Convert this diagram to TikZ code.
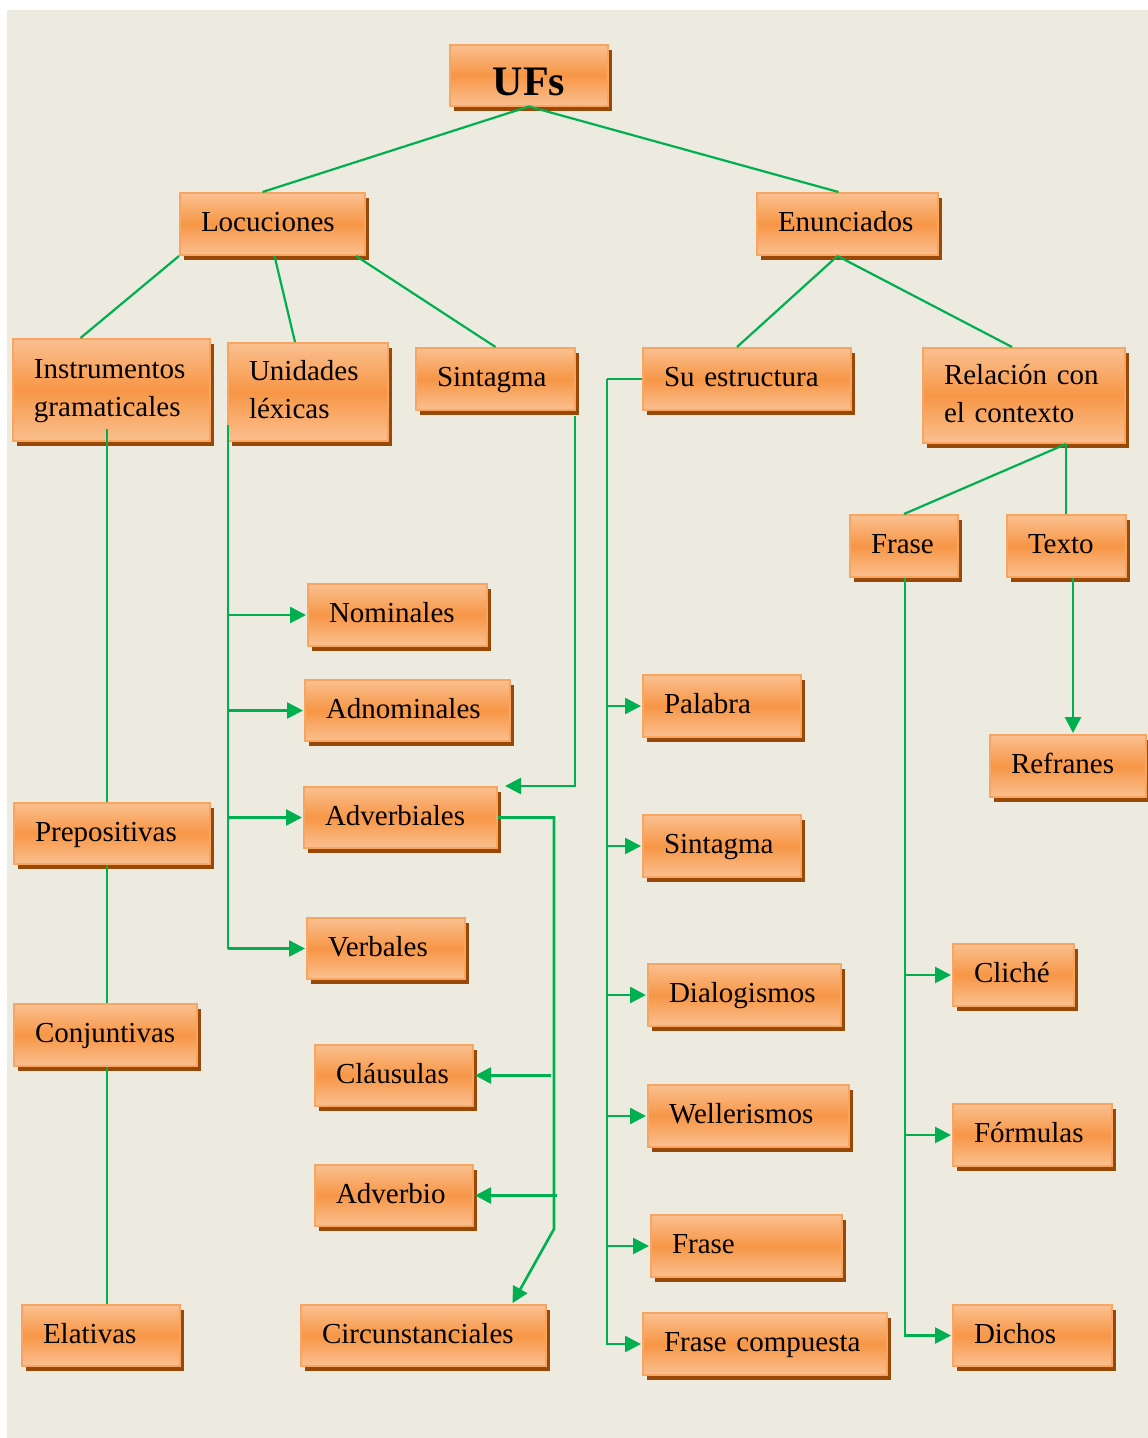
\documentclass[tikz,border=0pt]{standalone}
\usepackage{fontspec}
\setmainfont{Liberation Serif}
\usetikzlibrary{calc,shadows,arrows.meta}

\definecolor{bgc}{HTML}{EDEAE0}
\definecolor{boxmid}{HTML}{F79646}
\definecolor{boxlight}{HTML}{FAC090}
\definecolor{boxedge}{HTML}{F8A462}
\definecolor{boxshade}{HTML}{984807}
\definecolor{linkc}{HTML}{00B050}

\tikzset{
  ufbox/.style={draw=boxedge, line width=2pt,
    top color=boxlight, bottom color=boxlight, middle color=boxmid,
    drop shadow={shadow xshift=4pt, shadow yshift=-5pt, fill=boxshade, opacity=1},
    inner xsep=21pt, inner ysep=0pt, align=left,
    font=\fontsize{29}{38}\selectfont},
  link/.style={draw=linkc, line width=2.2pt},
  arr/.style={draw=linkc, line width=2.6pt, shorten >=1pt,
    -{Triangle[length=16pt,width=16pt]}},
}

% box given by its corners: name, x1, y1, x2, y2, text
\newcommand\ufnode[6]{%
  \pgfmathsetmacro\ufw{#4-#2}%
  \pgfmathsetmacro\ufh{#5-#3}%
  \pgfmathsetmacro\uft{#4-#2-42}%
  \node[ufbox, minimum width=\ufw pt, minimum height=\ufh pt, text width=\uft pt]
    (#1) at ({(#2+#4)/2},{(#3+#5)/2}) {\strut #6\strut};}

\begin{document}
\begin{tikzpicture}[x=1pt, y=-1pt]
\useasboundingbox (0,0) rectangle (1148,1438);
\fill[bgc] (7,10) rectangle (1148,1438);

% top level
\node[ufbox, font=\fontsize{42}{50}\selectfont\bfseries, align=center,
  text width=116pt, minimum width=158pt, minimum height=61pt,
  text height=40pt, text depth=0pt] (ufs) at (529,75) {UFs};

\ufnode{loc}{180}{193}{365}{255}{Locuciones}
\ufnode{enu}{757}{193}{938}{255}{Enunciados}

% locuciones
\ufnode{inst}{13}{339}{210}{441}{Instrumentos\\gramaticales}
\ufnode{unid}{228}{343}{388}{441}{Unidades\\léxicas}
\ufnode{sintL}{416}{348}{575}{410}{Sintagma}
\ufnode{prep}{14}{803}{210}{864}{Prepositivas}
\ufnode{conj}{14}{1004}{197}{1066}{Conjuntivas}
\ufnode{elat}{22}{1305}{180}{1366}{Elativas}
\ufnode{nom}{308}{584}{487}{646}{Nominales}
\ufnode{adnom}{305}{680}{510}{741}{Adnominales}
\ufnode{adverb}{304}{787}{497}{848}{Adverbiales}
\ufnode{verb}{307}{918}{465}{979}{Verbales}
\ufnode{claus}{315}{1045}{473}{1106}{Cláusulas}
\ufnode{adverbio}{315}{1165}{473}{1226}{Adverbio}
\ufnode{circ}{301}{1305}{546}{1366}{Circunstanciales}

% enunciados
\ufnode{suest}{643}{348}{851}{410}{Su~estructura}
\ufnode{rel}{923}{348}{1125}{443}{Relación~con\\el~contexto}
\ufnode{pal}{643}{675}{801}{737}{Palabra}
\ufnode{sintM}{643}{815}{801}{877}{Sintagma}
\ufnode{dial}{648}{964}{841}{1026}{Dialogismos}
\ufnode{well}{648}{1085}{849}{1147}{Wellerismos}
\ufnode{fraseM}{651}{1215}{842}{1277}{Frase}
\ufnode{frcomp}{643}{1313}{887}{1375}{Frase~compuesta}
\ufnode{fraseR}{850}{515}{958}{577}{Frase}
\ufnode{texto}{1007}{515}{1126}{577}{Texto}
\ufnode{refr}{990}{735}{1146}{797}{Refranes}
\ufnode{cliche}{953}{944}{1074}{1006}{Cliché}
\ufnode{form}{953}{1104}{1112}{1166}{Fórmulas}
\ufnode{dichos}{953}{1305}{1112}{1366}{Dichos}

% tree lines
\draw[link] (ufs.south) -- ([xshift=-10pt]loc.north);
\draw[link] (ufs.south) -- ([xshift=-9pt]enu.north);
\draw[link] (loc.south west) -- ([xshift=-31pt]inst.north);
\draw[link] ([xshift=2pt]loc.south) -- ([xshift=-13pt]unid.north);
\draw[link] ([xshift=-10pt]loc.south east) -- (sintL.north);
\draw[link] ([xshift=-10pt]enu.south) -- ([xshift=-10pt]suest.north);
\draw[link] ([xshift=-10pt]enu.south) -- ([xshift=-12pt]rel.north);

% instrumentos gramaticales chain
\coordinate (instT) at ($(inst.south)+(-4.5,-13)$);
\draw[link] (instT) -- (instT |- prep.north);
\draw[link] (instT |- prep.south) -- (instT |- conj.north);
\draw[link] (instT |- conj.south) -- (instT |- elat.north);

% unidades lexicas
\coordinate (unT) at ($(unid.south west)+(1,-17)$);
\draw[link] (unT) -- (unT |- verb.west);
\foreach \n in {nom,adnom,adverb,verb}
  \draw[arr] (unT |- \n.west) -- (\n.west);

% sintagma
\coordinate (sT) at ($(sintL.south east)+(-1,5)$);
\draw[arr] (sT) |- ([xshift=6pt]adverb.north east);

% adverbiales
\coordinate (aJ) at ($(adverb.east)+(56,0)$);
\coordinate (aK) at ($(aJ |- circ.north)+(0,-75)$);
\draw[arr] (adverb.east) -- (aJ) -- (aK) -- ([xshift=-35pt]circ.north east);
\draw[arr] ($(aJ |- claus.east)+(-3,0)$) -- (claus.east);
\draw[arr] ($(aJ |- adverbio.east)+(3,0)$) -- (adverbio.east);

% su estructura
\coordinate (eT) at ($(suest.west)+(-35,0)$);
\draw[link] (suest.west) -- (eT);
\draw[arr] (eT) |- (frcomp.west);
\foreach \n in {pal,sintM,dial,well,fraseM}
  \draw[arr] (eT |- \n.west) -- (\n.west);

% relacion con el contexto
\coordinate (rB) at ($(rel.south)+(42,0)$);
\draw[link] (rB) -- (fraseR.north);
\draw[link] (rB) -- (rB |- texto.north);

\coordinate (fT) at ($(fraseR.south)+(1,0)$);
\draw[arr] (fT) |- (dichos.west);
\foreach \n in {cliche,form}
  \draw[arr] (fT |- \n.west) -- (\n.west);

\coordinate (tB) at ($(texto.south)+(6.5,0)$);
\draw[arr] (tB) -- (tB |- refr.north);
\end{tikzpicture}
\end{document}
